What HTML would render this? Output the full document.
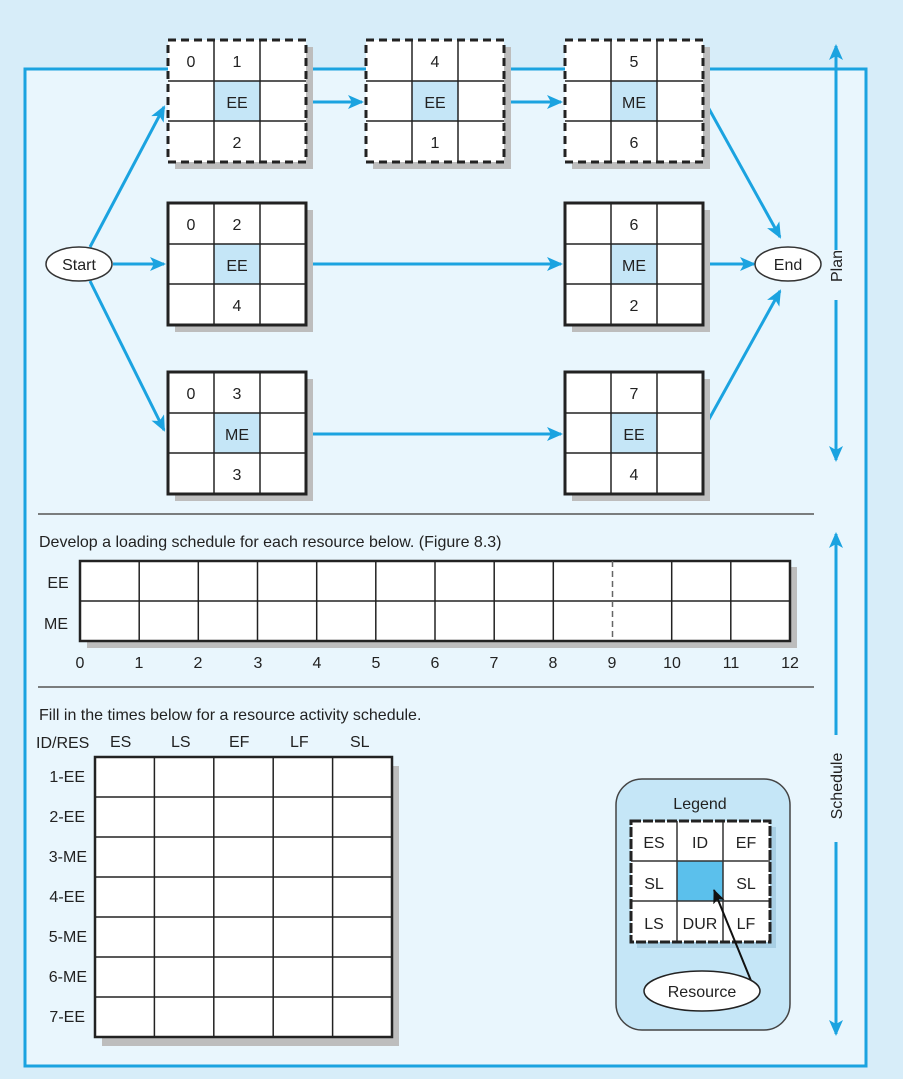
<!DOCTYPE html>
<html><head><meta charset="utf-8"><style>
html,body{margin:0;padding:0;background:#d7edf9;}
svg{display:block;font-family:"Liberation Sans",sans-serif;}
</style></head><body>
<svg width="903" height="1079" viewBox="0 0 903 1079" xmlns="http://www.w3.org/2000/svg">
<defs>
<marker id="ab" markerWidth="10" markerHeight="10" refX="9" refY="5" orient="auto" markerUnits="userSpaceOnUse" viewBox="0 0 10 10"><path d="M0,0 L10,5 L0,10 L3,5 z" fill="#1ba3e0"/></marker>
<marker id="ab2" markerWidth="16" markerHeight="14" refX="14" refY="7" orient="auto" markerUnits="userSpaceOnUse" viewBox="0 0 16 14"><path d="M0,0 L16,7 L0,14 L4,7 z" fill="#1ba3e0"/></marker>
<marker id="ak" markerWidth="14" markerHeight="12" refX="13" refY="6" orient="auto" markerUnits="userSpaceOnUse" viewBox="0 0 14 12"><path d="M0,0 L14,6 L0,12 L3,6 z" fill="#111"/></marker>
</defs>
<rect x="0" y="0" width="903" height="1079" fill="#d7edf9"/>
<rect x="25" y="69" width="841" height="997" fill="#e9f6fd" stroke="#1ba3e0" stroke-width="3"/>

<!-- right arrows -->
<g stroke="#1ba3e0" stroke-width="3" fill="none">
<line x1="836" y1="250" x2="836" y2="46" marker-end="url(#ab2)"/>
<line x1="836" y1="300" x2="836" y2="460" marker-end="url(#ab2)"/>
<line x1="836" y1="735" x2="836" y2="534" marker-end="url(#ab2)"/>
<line x1="836" y1="842" x2="836" y2="1034" marker-end="url(#ab2)"/>
</g>
<text transform="translate(842,266) rotate(-90)" font-size="16" text-anchor="middle" fill="#222">Plan</text>
<text transform="translate(842,786) rotate(-90)" font-size="16" text-anchor="middle" fill="#222">Schedule</text>

<!-- connectors -->
<g stroke="#1ba3e0" stroke-width="3" fill="none">
<line x1="90" y1="247" x2="164" y2="107" marker-end="url(#ab2)"/>
<line x1="113" y1="264" x2="164" y2="264" marker-end="url(#ab2)"/>
<line x1="90" y1="281" x2="164" y2="430" marker-end="url(#ab2)"/>
<line x1="306" y1="102" x2="362" y2="102" marker-end="url(#ab2)"/>
<line x1="504" y1="102" x2="561" y2="102" marker-end="url(#ab2)"/>
<line x1="306" y1="264" x2="561" y2="264" marker-end="url(#ab2)"/>
<line x1="306" y1="434" x2="561" y2="434" marker-end="url(#ab2)"/>
<line x1="703" y1="98" x2="780" y2="237" marker-end="url(#ab2)"/>
<line x1="703" y1="264" x2="754" y2="264" marker-end="url(#ab2)"/>
<line x1="703" y1="430" x2="780" y2="291" marker-end="url(#ab2)"/>
</g>

<!-- nodes -->
<g font-size="16" fill="#222" text-anchor="middle">
<!-- Node template repeated -->
<g transform="translate(168,40)">
<rect x="7" y="7" width="138" height="122" fill="#bdbdbd"/>
<rect x="0" y="0" width="138" height="122" fill="#fff"/>
<rect x="46" y="41" width="46" height="40" fill="#c5e6f7"/>
<g stroke="#222" stroke-width="1.5"><line x1="46" y1="0" x2="46" y2="122"/><line x1="92" y1="0" x2="92" y2="122"/><line x1="0" y1="41" x2="138" y2="41"/><line x1="0" y1="81" x2="138" y2="81"/></g>
<rect x="0" y="0" width="138" height="122" fill="none" stroke="#222" stroke-width="3" stroke-dasharray="8,5"/>
<text x="23" y="27">0</text><text x="69" y="27">1</text><text x="69" y="68">EE</text><text x="69" y="108">2</text>
</g>
<g transform="translate(366,40)">
<rect x="7" y="7" width="138" height="122" fill="#bdbdbd"/>
<rect x="0" y="0" width="138" height="122" fill="#fff"/>
<rect x="46" y="41" width="46" height="40" fill="#c5e6f7"/>
<g stroke="#222" stroke-width="1.5"><line x1="46" y1="0" x2="46" y2="122"/><line x1="92" y1="0" x2="92" y2="122"/><line x1="0" y1="41" x2="138" y2="41"/><line x1="0" y1="81" x2="138" y2="81"/></g>
<rect x="0" y="0" width="138" height="122" fill="none" stroke="#222" stroke-width="3" stroke-dasharray="8,5"/>
<text x="69" y="27">4</text><text x="69" y="68">EE</text><text x="69" y="108">1</text>
</g>
<g transform="translate(565,40)">
<rect x="7" y="7" width="138" height="122" fill="#bdbdbd"/>
<rect x="0" y="0" width="138" height="122" fill="#fff"/>
<rect x="46" y="41" width="46" height="40" fill="#c5e6f7"/>
<g stroke="#222" stroke-width="1.5"><line x1="46" y1="0" x2="46" y2="122"/><line x1="92" y1="0" x2="92" y2="122"/><line x1="0" y1="41" x2="138" y2="41"/><line x1="0" y1="81" x2="138" y2="81"/></g>
<rect x="0" y="0" width="138" height="122" fill="none" stroke="#222" stroke-width="3" stroke-dasharray="8,5"/>
<text x="69" y="27">5</text><text x="69" y="68">ME</text><text x="69" y="108">6</text>
</g>
<g transform="translate(168,203)">
<rect x="7" y="7" width="138" height="122" fill="#bdbdbd"/>
<rect x="0" y="0" width="138" height="122" fill="#fff"/>
<rect x="46" y="41" width="46" height="40" fill="#c5e6f7"/>
<g stroke="#222" stroke-width="1.5"><line x1="46" y1="0" x2="46" y2="122"/><line x1="92" y1="0" x2="92" y2="122"/><line x1="0" y1="41" x2="138" y2="41"/><line x1="0" y1="81" x2="138" y2="81"/></g>
<rect x="0" y="0" width="138" height="122" fill="none" stroke="#222" stroke-width="3"/>
<text x="23" y="27">0</text><text x="69" y="27">2</text><text x="69" y="68">EE</text><text x="69" y="108">4</text>
</g>
<g transform="translate(565,203)">
<rect x="7" y="7" width="138" height="122" fill="#bdbdbd"/>
<rect x="0" y="0" width="138" height="122" fill="#fff"/>
<rect x="46" y="41" width="46" height="40" fill="#c5e6f7"/>
<g stroke="#222" stroke-width="1.5"><line x1="46" y1="0" x2="46" y2="122"/><line x1="92" y1="0" x2="92" y2="122"/><line x1="0" y1="41" x2="138" y2="41"/><line x1="0" y1="81" x2="138" y2="81"/></g>
<rect x="0" y="0" width="138" height="122" fill="none" stroke="#222" stroke-width="3"/>
<text x="69" y="27">6</text><text x="69" y="68">ME</text><text x="69" y="108">2</text>
</g>
<g transform="translate(168,372)">
<rect x="7" y="7" width="138" height="122" fill="#bdbdbd"/>
<rect x="0" y="0" width="138" height="122" fill="#fff"/>
<rect x="46" y="41" width="46" height="40" fill="#c5e6f7"/>
<g stroke="#222" stroke-width="1.5"><line x1="46" y1="0" x2="46" y2="122"/><line x1="92" y1="0" x2="92" y2="122"/><line x1="0" y1="41" x2="138" y2="41"/><line x1="0" y1="81" x2="138" y2="81"/></g>
<rect x="0" y="0" width="138" height="122" fill="none" stroke="#222" stroke-width="3"/>
<text x="23" y="27">0</text><text x="69" y="27">3</text><text x="69" y="68">ME</text><text x="69" y="108">3</text>
</g>
<g transform="translate(565,372)">
<rect x="7" y="7" width="138" height="122" fill="#bdbdbd"/>
<rect x="0" y="0" width="138" height="122" fill="#fff"/>
<rect x="46" y="41" width="46" height="40" fill="#c5e6f7"/>
<g stroke="#222" stroke-width="1.5"><line x1="46" y1="0" x2="46" y2="122"/><line x1="92" y1="0" x2="92" y2="122"/><line x1="0" y1="41" x2="138" y2="41"/><line x1="0" y1="81" x2="138" y2="81"/></g>
<rect x="0" y="0" width="138" height="122" fill="none" stroke="#222" stroke-width="3"/>
<text x="69" y="27">7</text><text x="69" y="68">EE</text><text x="69" y="108">4</text>
</g>

<!-- Start / End -->
<ellipse cx="79" cy="264" rx="33" ry="17" fill="#fff" stroke="#333" stroke-width="1.5"/>
<text x="79" y="270">Start</text>
<ellipse cx="788" cy="264" rx="33" ry="17" fill="#fff" stroke="#333" stroke-width="1.5"/>
<text x="788" y="270">End</text>
</g>

<!-- separators -->
<line x1="38" y1="514" x2="814" y2="514" stroke="#555" stroke-width="1.5"/>
<line x1="38" y1="687" x2="814" y2="687" stroke="#555" stroke-width="1.5"/>

<g font-size="16" fill="#222">
<text x="39" y="547">Develop a loading schedule for each resource below. (Figure 8.3)</text>
<text x="39" y="720">Fill in the times below for a resource activity schedule.</text>
</g>

<!-- loading chart -->
<rect x="87" y="567" width="710" height="81" fill="#bdbdbd"/>
<rect x="80" y="561" width="710" height="80" fill="#fff" stroke="#222" stroke-width="2.5"/>
<g stroke="#222" stroke-width="1.5">
<line x1="80" y1="601" x2="790" y2="601"/>
<line x1="139.2" y1="561" x2="139.2" y2="641"/>
<line x1="198.3" y1="561" x2="198.3" y2="641"/>
<line x1="257.5" y1="561" x2="257.5" y2="641"/>
<line x1="316.7" y1="561" x2="316.7" y2="641"/>
<line x1="375.8" y1="561" x2="375.8" y2="641"/>
<line x1="435" y1="561" x2="435" y2="641"/>
<line x1="494.2" y1="561" x2="494.2" y2="641"/>
<line x1="553.3" y1="561" x2="553.3" y2="641"/>
<line x1="612.5" y1="561" x2="612.5" y2="641" stroke-dasharray="6,4" stroke="#666"/>
<line x1="671.7" y1="561" x2="671.7" y2="641"/>
<line x1="730.8" y1="561" x2="730.8" y2="641"/>
</g>
<g font-size="16" fill="#222" text-anchor="middle">
<text x="58" y="588">EE</text><text x="56" y="629">ME</text>
<text x="80" y="668">0</text><text x="139" y="668">1</text><text x="198" y="668">2</text><text x="258" y="668">3</text><text x="317" y="668">4</text><text x="376" y="668">5</text><text x="435" y="668">6</text><text x="494" y="668">7</text><text x="553" y="668">8</text><text x="612" y="668">9</text><text x="672" y="668">10</text><text x="731" y="668">11</text><text x="790" y="668">12</text>
</g>

<!-- activity table -->
<rect x="102" y="766" width="297" height="280" fill="#bdbdbd"/>
<rect x="95" y="757" width="297" height="280" fill="#fff" stroke="#222" stroke-width="2.5"/>
<g stroke="#222" stroke-width="1.5">
<line x1="154.4" y1="757" x2="154.4" y2="1037"/><line x1="213.8" y1="757" x2="213.8" y2="1037"/><line x1="273.2" y1="757" x2="273.2" y2="1037"/><line x1="332.6" y1="757" x2="332.6" y2="1037"/>
<line x1="95" y1="797" x2="392" y2="797"/><line x1="95" y1="837" x2="392" y2="837"/><line x1="95" y1="877" x2="392" y2="877"/><line x1="95" y1="917" x2="392" y2="917"/><line x1="95" y1="957" x2="392" y2="957"/><line x1="95" y1="997" x2="392" y2="997"/>
</g>
<g font-size="16" fill="#222">
<text x="36" y="748">ID/RES</text>
<text x="110" y="747">ES</text><text x="171" y="747">LS</text><text x="229" y="747">EF</text><text x="290" y="747">LF</text><text x="350" y="747">SL</text>
<g text-anchor="end">
<text x="85" y="782">1-EE</text><text x="85" y="822">2-EE</text><text x="87" y="862">3-ME</text><text x="85" y="902">4-EE</text><text x="87" y="942">5-ME</text><text x="87" y="982">6-ME</text><text x="85" y="1022">7-EE</text>
</g>
</g>

<!-- legend -->
<rect x="616" y="779" width="174" height="251" rx="26" fill="#c5e6f7" stroke="#444" stroke-width="1.5"/>
<text x="700" y="809" font-size="16" fill="#222" text-anchor="middle">Legend</text>
<rect x="637" y="827" width="139" height="121" fill="#a8cfe4"/>
<rect x="631" y="821" width="139" height="121" fill="#fff"/>
<rect x="677" y="861" width="46" height="40" fill="#5bc0ec"/>
<g stroke="#333" stroke-width="1.5"><line x1="677" y1="821" x2="677" y2="942"/><line x1="723" y1="821" x2="723" y2="942"/><line x1="631" y1="861" x2="770" y2="861"/><line x1="631" y1="901" x2="770" y2="901"/></g>
<rect x="631" y="821" width="139" height="121" fill="none" stroke="#222" stroke-width="3" stroke-dasharray="10,2"/>
<g font-size="16" fill="#222" text-anchor="middle">
<text x="654" y="848">ES</text><text x="700" y="848">ID</text><text x="746" y="848">EF</text>
<text x="654" y="889">SL</text><text x="746" y="889">SL</text>
<text x="654" y="929">LS</text><text x="700" y="929">DUR</text><text x="746" y="929">LF</text>
</g>
<line x1="754" y1="988" x2="714" y2="890" stroke="#111" stroke-width="2" marker-end="url(#ak)"/>
<ellipse cx="702" cy="991" rx="58" ry="20" fill="#fff" stroke="#222" stroke-width="1.5"/>
<text x="702" y="997" font-size="16" fill="#222" text-anchor="middle">Resource</text>
</svg>
</body></html>
